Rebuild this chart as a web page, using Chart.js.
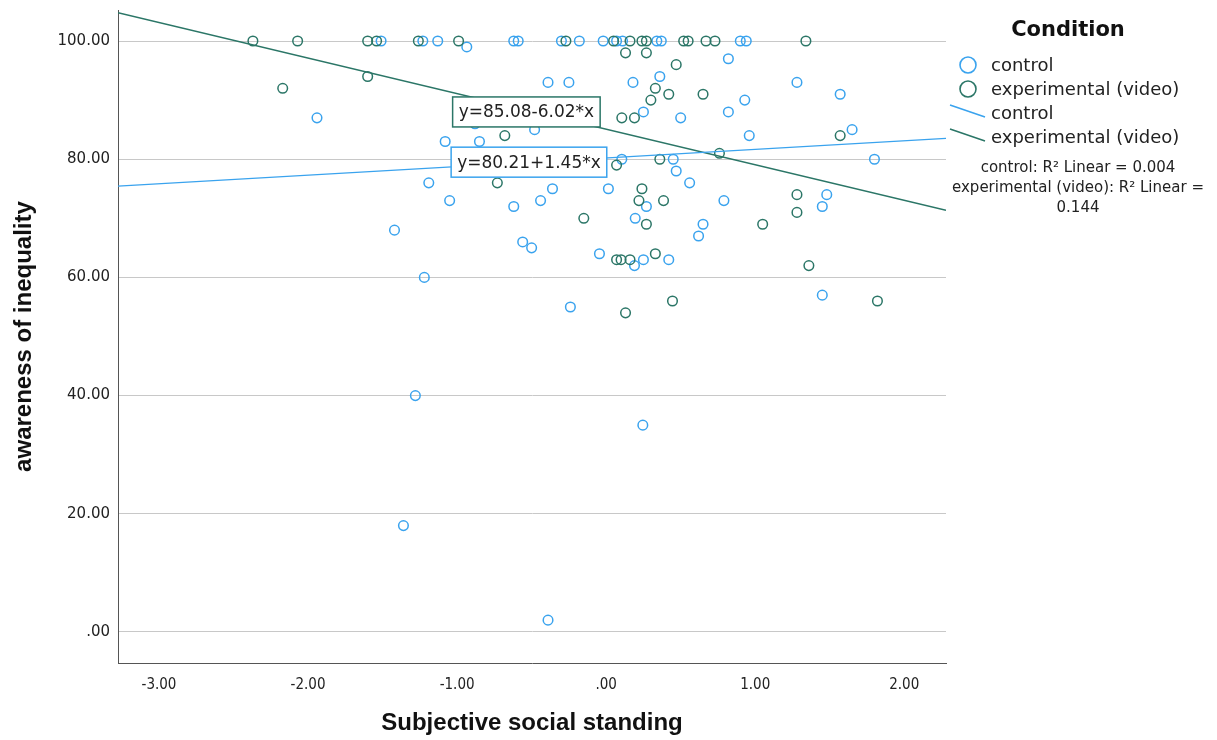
<!DOCTYPE html>
<html>
<head>
<meta charset="utf-8">
<script src="https://cdn.jsdelivr.net/npm/chart.js@4"></script>
<style>
  body { margin: 0; background: #fff; }
</style>
</head>
<body>
<canvas id="myChart" width="1217" height="740"></canvas>
<script>
const seriesNames = ["control", "experimental (video)"];
const seriesColors = ["#3aa3ee", "#2b7667"];

const controlX = [-1.51, -1.23, -1.13, -0.62, -0.59, -0.3, -0.18, -0.02, 0.07, 0.11, 0.34, 0.37, 0.9, 0.94,
  -0.935, -1.94, -1.08, -0.85, -0.88, -1.19, -1.05, -0.62, -0.39, -0.25, 0.18, 0.36, 0.25, 0.5, -0.48,
  0.105, 0.45, 0.47, 0.56, -0.36, 0.015, -0.44, 0.27, 0.82, 1.28, 1.57, 0.93, 0.82, 0.96, 1.65, 1.8,
  0.79, 1.48, 1.45, 0.195, -1.42, 0.65, 0.62, -0.56, -0.5, -1.22, -0.045, 0.19, 0.25, 0.42, -0.24,
  1.45, -1.28, 0.246, -1.36, -0.39];
const controlY = [100, 100, 100, 100, 100, 100, 100, 100, 100, 100, 100, 100, 100, 100,
  99, 87, 83, 83, 86, 76, 73, 72, 93, 93, 93, 94, 88, 87, 85,
  80, 80, 78, 76, 75, 75, 73, 72, 97, 93, 91, 90, 88, 84, 85, 80,
  73, 74, 72, 70, 68, 69, 67, 66, 65, 60, 64, 62, 63, 63, 55,
  57, 40, 35, 18, 2];

const videoX = [-2.37, -2.07, -1.6, -1.54, -1.26, -0.99, -0.27, 0.05, 0.16, 0.24, 0.27, 0.52, 0.55, 0.67, 0.73, 1.34,
  -2.17, -1.6, -0.68, -0.73, 0.13, 0.27, 0.47, 0.33, 0.42, 0.3, 0.105, 0.19, 0.36, 0.24, 0.22, 0.385,
  0.65, 1.57, 0.76, 1.28, 1.28, -0.15, 0.27, 0.07, 0.1, 0.16, 0.33, 0.13, 0.445, 1.05, 1.36, 1.82, 0.07];
const videoY = [100, 100, 100, 100, 100, 100, 100, 100, 100, 100, 100, 100, 100, 100, 100, 100,
  92, 94, 84, 76, 98, 98, 96, 92, 91, 90, 87, 87, 80, 75, 73, 73,
  91, 84, 81, 74, 71, 70, 69, 63, 63, 63, 64, 54, 56, 69, 62, 56, 79];

// fit lines: y = intercept + slope * x
const fitIntercept = [80.21, 85.08];
const fitSlope = [1.45, -6.02];
const fitLabels = ["y=80.21+1.45*x", "y=85.08-6.02*x"];
const fitLabelX = [-1.04, -1.03];
const fitLabelY = [79.5, 88.0];
const rSquared = ["0.004", "0.144"];

const xTicks = [-3, -2, -1, 0, 1, 2];
const yTicks = [0, 20, 40, 60, 80, 100];
const xRange = [-3.275, 2.28];
const yRange = [-5.25, 105.25];

const xTitle = "Subjective social standing";
const yTitle = "awareness of inequality";
const legendTitle = "Condition";

function toPoints(xs, ys) {
  return xs.map((x, i) => ({ x: x, y: ys[i] }));
}

function fitLine(i) {
  return xRange.map(x => ({ x: x, y: fitIntercept[i] + fitSlope[i] * x }));
}

function fmt(v) {
  if (Math.abs(v) < 1e-9) return ".00";
  return v.toFixed(2);
}

const annotations = {
  id: "annotations",
  afterDraw(chart) {
    const ctx = chart.ctx;
    const xs = chart.scales.x;
    const ys = chart.scales.y;
    ctx.save();

    // axis titles
    ctx.fillStyle = "#111";
    ctx.font = "bold 24px 'Liberation Sans', Arial, sans-serif";
    ctx.textAlign = "center";
    ctx.textBaseline = "middle";
    ctx.fillText(xTitle, (xs.left + xs.right) / 2, 723);
    ctx.save();
    ctx.translate(24, (ys.top + ys.bottom) / 2);
    ctx.rotate(-Math.PI / 2);
    ctx.fillText(yTitle, 0, 0);
    ctx.restore();

    // equation boxes
    ctx.font = "17px 'DejaVu Sans', sans-serif";
    ctx.textAlign = "left";
    for (let i = 0; i < fitLabels.length; i++) {
      const left = xs.getPixelForValue(fitLabelX[i]);
      const cy = ys.getPixelForValue(fitLabelY[i]);
      const w = ctx.measureText(fitLabels[i]).width + 12;
      ctx.fillStyle = "#fff";
      ctx.fillRect(left, cy - 15, w, 30);
      ctx.strokeStyle = seriesColors[i];
      ctx.lineWidth = 1.5;
      ctx.strokeRect(left, cy - 15, w, 30);
      ctx.fillStyle = "#222";
      ctx.fillText(fitLabels[i], left + 6, cy + 1);
    }

    // legend
    ctx.fillStyle = "#111";
    ctx.font = "bold 21px 'DejaVu Sans', sans-serif";
    ctx.textAlign = "center";
    ctx.fillText(legendTitle, 1068, 31);

    ctx.font = "18px 'DejaVu Sans', sans-serif";
    ctx.textAlign = "left";
    for (let i = 0; i < seriesNames.length; i++) {
      const cy = 65 + i * 24;
      ctx.beginPath();
      ctx.arc(968, cy, 8, 0, Math.PI * 2);
      ctx.strokeStyle = seriesColors[i];
      ctx.lineWidth = 1.6;
      ctx.stroke();
      ctx.fillStyle = "#222";
      ctx.fillText(seriesNames[i], 991, cy + 1);
    }
    for (let i = 0; i < seriesNames.length; i++) {
      const cy = 113 + i * 24;
      ctx.beginPath();
      ctx.moveTo(950, cy - 8);
      ctx.lineTo(985, cy + 4);
      ctx.strokeStyle = seriesColors[i];
      ctx.lineWidth = 1.5;
      ctx.stroke();
      ctx.fillStyle = "#222";
      ctx.fillText(seriesNames[i], 991, cy + 1);
    }

    ctx.font = "15px 'DejaVu Sans', sans-serif";
    ctx.textAlign = "center";
    ctx.fillStyle = "#222";
    ctx.fillText(seriesNames[0] + ": R\u00B2 Linear = " + rSquared[0], 1078, 168);
    ctx.fillText(seriesNames[1] + ": R\u00B2 Linear =", 1078, 188);
    ctx.fillText(rSquared[1], 1078, 208);

    ctx.restore();
  },
};

const myChart = new Chart("myChart", {
  data: {
    datasets: [
      {
        type: "line",
        label: seriesNames[0] + " fit",
        data: fitLine(0),
        borderColor: seriesColors[0],
        borderWidth: 1.2,
        pointRadius: 0,
      },
      {
        type: "line",
        label: seriesNames[1] + " fit",
        data: fitLine(1),
        borderColor: seriesColors[1],
        borderWidth: 1.5,
        pointRadius: 0,
      },
      {
        type: "scatter",
        label: seriesNames[1],
        data: toPoints(videoX, videoY),
        borderColor: seriesColors[1],
        backgroundColor: "rgba(0,0,0,0)",
        borderWidth: 1.5,
        pointRadius: 4.8,
      },
      {
        type: "scatter",
        label: seriesNames[0],
        data: toPoints(controlX, controlY),
        borderColor: seriesColors[0],
        backgroundColor: "rgba(0,0,0,0)",
        borderWidth: 1.5,
        pointRadius: 4.8,
      },
    ],
  },
  options: {
    responsive: false,
    animation: false,
    layout: { padding: { left: 0, right: 271, top: 10, bottom: 0 } },
    plugins: {
      legend: { display: false },
      tooltip: { enabled: false },
    },
    scales: {
      x: {
        type: "linear",
        min: xRange[0],
        max: xRange[1],
        afterBuildTicks: (scale) => { scale.ticks = xTicks.map(v => ({ value: v })); },
        afterFit: (scale) => { scale.height = 77; scale.paddingLeft = 0; scale.paddingRight = 0; },
        grid: { display: false, drawTicks: false },
        border: { display: true, color: "#555", width: 1 },
        ticks: {
          callback: (v) => fmt(v),
          padding: 13,
          maxRotation: 0,
          color: "#222",
          font: { family: "'DejaVu Sans Condensed', 'DejaVu Sans', sans-serif", size: 15 },
        },
      },
      y: {
        type: "linear",
        min: yRange[0],
        max: yRange[1],
        afterBuildTicks: (scale) => { scale.ticks = yTicks.map(v => ({ value: v })); },
        afterFit: (scale) => { scale.width = 118; scale.paddingTop = 0; scale.paddingBottom = 0; },
        grid: { color: "#c8c8c8", lineWidth: 1, drawTicks: false },
        border: { display: true, color: "#555", width: 1 },
        ticks: {
          callback: (v) => fmt(v),
          padding: 8,
          color: "#222",
          font: { family: "'DejaVu Sans', sans-serif", size: 15 },
        },
      },
    },
  },
  plugins: [annotations],
});
</script>
</body>
</html>
